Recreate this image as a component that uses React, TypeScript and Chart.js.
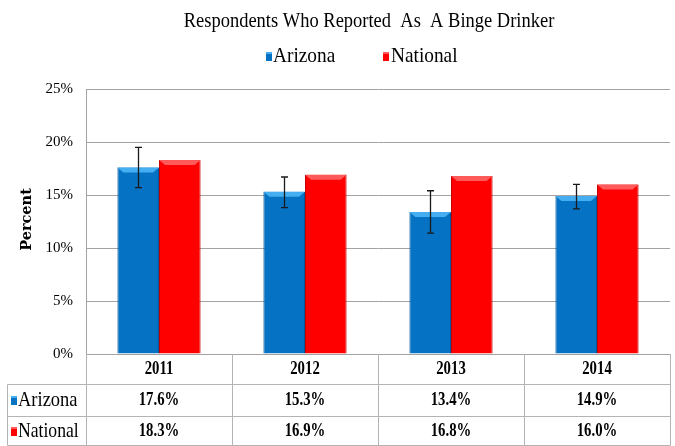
import React, { useEffect, useRef } from 'react';
import { Chart, registerables } from 'chart.js';

Chart.register(...registerables);

const years = ['2011', '2012', '2013', '2014'];
const arizona = [17.6, 15.3, 13.4, 14.9];
const national = [18.3, 16.9, 16.8, 16.0];
const arizonaLow = [15.7, 13.8, 11.4, 13.7];
const arizonaHigh = [19.5, 16.7, 15.4, 16.0];
const arizonaLabels = ['17.6%', '15.3%', '13.4%', '14.9%'];
const nationalLabels = ['18.3%', '16.9%', '16.8%', '16.0%'];
const seriesNames = ['Arizona', 'National'];
const titleText = 'Respondents Who Reported  As  A Binge Drinker';
const yTitle = 'Percent';

const SERIF = "'Liberation Serif', 'Times New Roman', serif";
const colors = ['#0672c4', '#fe0000'];
const lightColors = ['#45aef0', '#ff5a5a'];
const edgeColors = ['#04589a', '#c80000'];
const gridColor = '#a3a3a3';
const tableColor = '#b4b4b4';

function drawMarker(ctx: CanvasRenderingContext2D, x: number, y: number, di: number) {
  ctx.fillStyle = colors[di];
  ctx.fillRect(x, y, 6, 9);
  ctx.fillStyle = lightColors[di];
  ctx.fillRect(x, y, 6, 2);
}

function textScaled(
  ctx: CanvasRenderingContext2D,
  text: string,
  x: number,
  y: number,
  sx: number,
  align: CanvasTextAlign,
) {
  ctx.save();
  ctx.translate(x, y);
  ctx.scale(sx, 1);
  ctx.textAlign = align;
  ctx.fillText(text, 0, 0);
  ctx.restore();
}

const decor = {
  id: 'decor',
  afterDatasetsDraw(chart: any) {
    const ctx: CanvasRenderingContext2D = chart.ctx;
    ctx.save();
    chart.data.datasets.forEach((_ds: any, di: number) => {
      const meta = chart.getDatasetMeta(di);
      meta.data.forEach((bar: any) => {
        const { x, y, width } = bar.getProps(['x', 'y', 'width'], true);
        const l = x - width / 2;
        const r = x + width / 2;
        ctx.fillStyle = lightColors[di];
        ctx.beginPath();
        ctx.moveTo(l, y);
        ctx.lineTo(r, y);
        ctx.lineTo(r - 6, y + 5);
        ctx.lineTo(l + 6, y + 5);
        ctx.closePath();
        ctx.fill();
      });
    });
    const ys = chart.scales.y;
    const meta0 = chart.getDatasetMeta(0);
    ctx.strokeStyle = '#1a1a1a';
    ctx.lineWidth = 1.3;
    meta0.data.forEach((bar: any, i: number) => {
      const x = Math.round(bar.x) + 0.5;
      const yh = ys.getPixelForValue(arizonaHigh[i]);
      const yl = ys.getPixelForValue(arizonaLow[i]);
      ctx.beginPath();
      ctx.moveTo(x, yh);
      ctx.lineTo(x, yl);
      ctx.moveTo(x - 3.5, yh);
      ctx.lineTo(x + 3.5, yh);
      ctx.moveTo(x - 3.5, yl);
      ctx.lineTo(x + 3.5, yl);
      ctx.stroke();
    });
    ctx.restore();
  },
  afterDraw(chart: any) {
    const ctx: CanvasRenderingContext2D = chart.ctx;
    const area = chart.chartArea;
    const xs = chart.scales.x;
    ctx.save();
    ctx.textBaseline = 'middle';
    // title
    ctx.fillStyle = '#000';
    ctx.font = `22px ${SERIF}`;
    textScaled(ctx, titleText, 369, 21, 0.84, 'center');
    // legend
    ctx.font = `21px ${SERIF}`;
    drawMarker(ctx, 266, 52, 0);
    ctx.fillStyle = '#000';
    textScaled(ctx, seriesNames[0], 273, 56, 0.92, 'left');
    drawMarker(ctx, 383, 52, 1);
    ctx.fillStyle = '#000';
    textScaled(ctx, seriesNames[1], 391, 56, 0.92, 'left');
    // y title
    ctx.save();
    ctx.translate(27, (area.top + area.bottom) / 2 - 2);
    ctx.rotate(-Math.PI / 2);
    ctx.textAlign = 'center';
    ctx.font = `bold 14.5px 'DejaVu Serif', serif`;
    ctx.fillText(yTitle, 0, 0);
    ctx.restore();

    // data table
    const top = area.bottom;
    const r1 = 384.5;
    const r2 = 416.5;
    const bottom = 445.5;
    const leftEdge = 7.5;
    const n = years.length;
    const step = (area.right - area.left) / n;
    ctx.strokeStyle = tableColor;
    ctx.lineWidth = 1;
    ctx.beginPath();
    for (let i = 0; i <= n; i++) {
      const x = Math.round(area.left + step * i) + 0.5;
      ctx.moveTo(x, top);
      ctx.lineTo(x, bottom);
    }
    ctx.moveTo(leftEdge, r1);
    ctx.lineTo(leftEdge, bottom);
    [r1, r2, bottom].forEach((yy) => {
      ctx.moveTo(leftEdge, yy);
      ctx.lineTo(Math.round(area.right) + 0.5, yy);
    });
    ctx.stroke();

    ctx.fillStyle = '#000';
    ctx.font = `bold 18px ${SERIF}`;
    years.forEach((yr, i) => {
      const cx = xs.getPixelForValue(i);
      textScaled(ctx, yr, cx, 369, 0.82, 'center');
      textScaled(ctx, arizonaLabels[i], cx, 400, 0.82, 'center');
      textScaled(ctx, nationalLabels[i], cx, 431, 0.82, 'center');
    });
    ctx.font = `21px ${SERIF}`;
    drawMarker(ctx, 11, 396, 0);
    ctx.fillStyle = '#000';
    textScaled(ctx, seriesNames[0], 18, 400, 0.88, 'left');
    drawMarker(ctx, 11, 427, 1);
    ctx.fillStyle = '#000';
    textScaled(ctx, seriesNames[1], 18, 431, 0.84, 'left');
    ctx.restore();
  },
};

export default function App() {
  const canvasRef = useRef<HTMLCanvasElement | null>(null);

  useEffect(() => {
    document.body.style.margin = '0';
    const canvas = canvasRef.current;
    if (!canvas) return;
    const chart = new Chart(canvas, {
      type: 'bar',
      data: {
        labels: years,
        datasets: [
          {
            label: seriesNames[0],
            data: arizona,
            backgroundColor: colors[0],
            borderColor: edgeColors[0],
            borderWidth: 1,
            categoryPercentage: 0.57,
            barPercentage: 1,
          },
          {
            label: seriesNames[1],
            data: national,
            backgroundColor: colors[1],
            borderColor: edgeColors[1],
            borderWidth: 1,
            categoryPercentage: 0.57,
            barPercentage: 1,
          },
        ],
      },
      options: {
        responsive: true,
        maintainAspectRatio: false,
        animation: false,
        layout: { padding: { top: 89, right: 5, bottom: 92, left: 0 } },
        plugins: {
          legend: { display: false },
          title: { display: false },
          tooltip: { enabled: false },
        },
        scales: {
          x: {
            display: false,
          },
          y: {
            min: 0,
            max: 25,
            afterFit: (scale: any) => {
              scale.width = 86;
            },
            ticks: {
              stepSize: 5,
              padding: 13,
              color: '#000',
              font: { family: SERIF, size: 15 },
              callback: (v: any) => `${v}%`,
            },
            grid: { color: gridColor, drawTicks: false, lineWidth: 1 },
            border: { display: true, color: gridColor },
          },
        },
      },
      plugins: [decor],
    });
    return () => chart.destroy();
  }, []);

  return (
    <div style={{ width: 675, height: 446, position: 'relative', background: '#fff' }}>
      <canvas ref={canvasRef} />
    </div>
  );
}
